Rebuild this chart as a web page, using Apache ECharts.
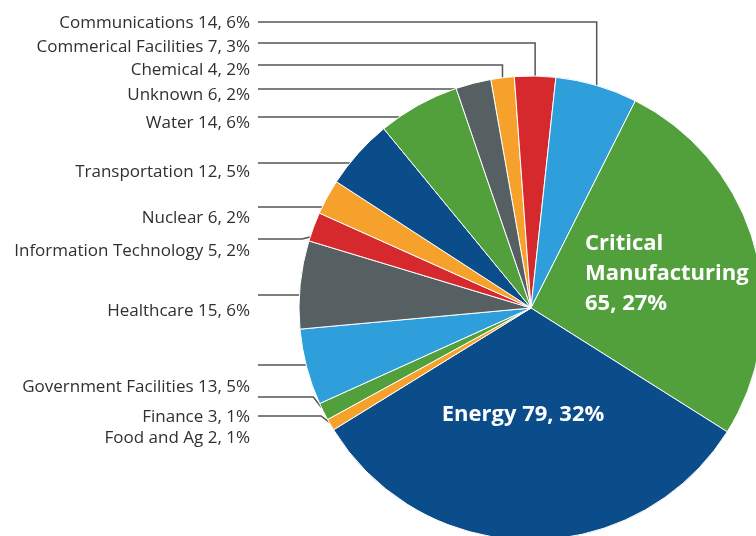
<!DOCTYPE html>
<html><head><meta charset="utf-8">
<script src="https://cdn.jsdelivr.net/npm/echarts@6/dist/echarts.min.js"></script>
<style>html,body{margin:0;padding:0;background:#fff}#c{width:756px;height:536px}</style>
</head><body><div id="c"></div>
<script>
// ---- data ----
const categories = ['Chemical','Commerical Facilities','Communications','Critical Manufacturing','Energy','Food and Ag','Finance','Government Facilities','Healthcare','Information Technology','Nuclear','Transportation','Water','Unknown'];
const incidents = [4, 7, 14, 65, 79, 2, 3, 13, 15, 5, 6, 12, 14, 6];
const percents  = [2, 3, 6, 27, 32, 1, 1, 5, 6, 2, 2, 5, 6, 2];

// ---- style / layout ----
const ORANGE = '#f6a12b', RED = '#d6292d', LBLUE = '#2f9fdc', GREEN = '#52a03c', DBLUE = '#0b4c8b', GRAY = '#566063';
const sliceColors = [ORANGE, RED, LBLUE, GREEN, DBLUE, ORANGE, GREEN, LBLUE, GRAY, RED, ORANGE, DBLUE, GREEN, GRAY];
// outside label text centre y and leader-line y (null = label drawn inside the slice)
const labelTextY = [70, 47, 23, null, null, 438, 417, 387, 311, 251, 218, 172, 123, 95];
const labelLineY = [65, 43, 22, null, null, 416, 397, 365, 295, 239, 207, 163, 117, 89];
const topLabels = [0, 1, 2];          // leader lines going up from the slice
const insideSpots = { 3: {x: 585, y: 274, align: 'left'}, 4: {x: 523, y: 415, align: 'center'} };
const TEXT_RIGHT = 250, LINE_LEFT = 258;

const chart = echarts.init(document.getElementById('c'), null, {renderer: 'canvas'});

const seriesData = categories.map((name, i) => {
  const inside = labelTextY[i] == null;
  const item = { name: name, value: incidents[i], itemStyle: { color: sliceColors[i] } };
  if (inside) {
    item.label = {
      position: 'inside',
      formatter: i === 3 ? 'Critical\nManufacturing\n' + incidents[i] + ', ' + percents[i] + '%'
                         : name + ' ' + incidents[i] + ', ' + percents[i] + '%',
      color: '#ffffff', fontWeight: 'bold', fontSize: 22, lineHeight: 30,
      fontFamily: 'Open Sans'
    };
    item.labelLine = { show: false };
  }
  return item;
});

chart.setOption({
  animation: false,
  backgroundColor: '#ffffff',
  series: [{
    type: 'pie',
    center: [531, 308],
    radius: [0, 232],
    startAngle: 100,
    clockwise: true,
    avoidLabelOverlap: false,
    itemStyle: { borderColor: '#ffffff', borderWidth: 1 },
    label: {
      show: true, position: 'outside',
      fontFamily: 'Open Sans', fontSize: 17, color: '#303030',
      formatter: p => p.name + ' ' + incidents[p.dataIndex] + ', ' + percents[p.dataIndex] + '%'
    },
    labelLine: { show: true, smooth: false, lineStyle: { color: '#555555', width: 1.5 } },
    emphasis: { disabled: true },
    data: seriesData,
    labelLayout: function (p) {
      const i = p.dataIndex;
      if (insideSpots[i]) {
        const s = insideSpots[i];
        return { x: s.x, y: s.y, align: s.align, verticalAlign: 'middle' };
      }
      const lay = chart.getModel().getSeriesByIndex(0).getData().getItemLayout(i);
      const cx = lay.cx, cy = lay.cy, r = lay.r;
      let s = lay.startAngle, e = lay.endAngle;
      if (e < s) { const t = s; s = e; e = t; }
      const ly = labelLineY[i];
      let pts;
      if (topLabels.indexOf(i) >= 0) {
        const m = (s + e) / 2;
        const px = cx + r * Math.cos(m), py = cy + r * Math.sin(m);
        pts = [[px, py], [px, ly], [LINE_LEFT, ly]];
      } else {
        let a = Math.PI - Math.asin(Math.max(-1, Math.min(1, (ly - cy) / r)));
        while (a < s) a += 2 * Math.PI;
        while (a > e + 1e-9 && a - 2 * Math.PI >= s - 1e-9) a -= 2 * Math.PI;
        const margin = Math.min((e - s) / 4, Math.PI / 180);
        const clamped = Math.max(s + margin, Math.min(e - margin, a));
        const px = cx + r * Math.cos(clamped), py = cy + r * Math.sin(clamped);
        if (Math.abs(py - ly) < 0.5) {
          pts = [[px, py], [LINE_LEFT, ly]];
        } else {
          pts = [[px, py], [px - 8, ly], [LINE_LEFT, ly]];
        }
      }
      return {
        x: TEXT_RIGHT, y: labelTextY[i], align: 'right', verticalAlign: 'middle',
        labelLinePoints: pts
      };
    }
  }]
});
</script>
</body></html>
